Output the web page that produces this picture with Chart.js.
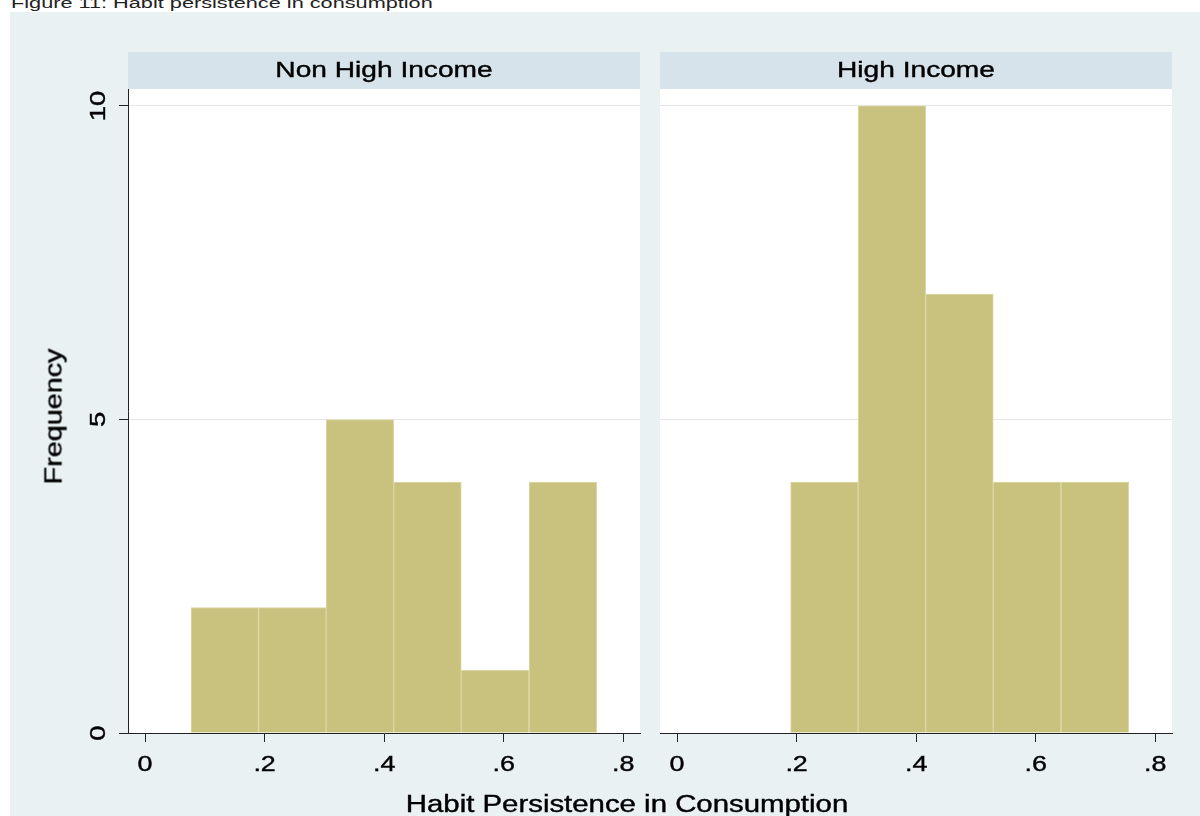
<!DOCTYPE html>
<html>
<head>
<meta charset="utf-8">
<script src="https://cdn.jsdelivr.net/npm/chart.js@4.4.1/dist/chart.umd.min.js"></script>
<style>
  html, body { margin: 0; padding: 0; background: #ffffff; }
  body { width: 1200px; height: 816px; position: relative; overflow: hidden;
         font-family: "Liberation Sans", Arial, sans-serif; }
  #caption { position: absolute; left: 11px; top: -5px; font-size: 15.5px; line-height: 1;
             color: #222; white-space: nowrap; transform: scaleX(1.4); transform-origin: left top; }
  #graph { position: absolute; left: 10px; top: 12px; width: 1190px; height: 804px; background: #eaf1f3; }
  canvas { position: absolute; top: 0; }
  .axis-title { position: absolute; line-height: 1; color: #000; white-space: nowrap;
                text-align: center; -webkit-text-stroke: 0.4px #000; }
  #xtitle { left: 0; width: 1254px; top: 793px; font-size: 23.5px; transform: scaleX(1.25); }
  #ytitle { left: -46.5px; width: 200px; top: 405px; font-size: 23px;
            transform: rotate(-90deg) scaleX(1.25); transform-origin: center center; }
</style>
</head>
<body>
<div id="caption">Figure 11: Habit persistence in consumption</div>
<div id="graph"></div>
<canvas id="panelLeft" width="650" height="816" style="left:0px;width:650px;height:816px"></canvas>
<canvas id="panelRight" width="550" height="816" style="left:650px;width:550px;height:816px"></canvas>
<div id="ytitle" class="axis-title">Frequency</div>
<div id="xtitle" class="axis-title">Habit Persistence in Consumption</div>
<script>
// Histogram bins shared by both panels
const binEdges = [0.077, 0.190, 0.303, 0.416, 0.529, 0.642, 0.756];
const nonHighIncomeCounts = [2, 2, 5, 4, 1, 4];
const highIncomeCounts = [0, 4, 10, 7, 4, 4];
const panelTitles = ['Non High Income', 'High Income'];
const xTickValues = [0, 0.2, 0.4, 0.6, 0.8];
const xTickLabels = ['0', '.2', '.4', '.6', '.8'];
const yTickValues = [0, 5, 10];
const yTickLabels = ['0', '5', '10'];

const FONT = '"Liberation Sans", Arial, sans-serif';
const TEXT_WIDEN = 1.25;
Chart.defaults.font.family = FONT;

// Wide, slightly heavy lettering: labels are stretched along their own baseline
function widenText(ctx, factor) {
  const fill = ctx.fillText;
  ctx.fillText = function (text, x, y) {
    this.save();
    this.translate(x, y);
    this.scale(factor, 1);
    fill.call(this, text, 0, 0);
    this.strokeStyle = this.fillStyle;
    this.lineWidth = 0.4;
    this.strokeText(text, 0, 0);
    this.restore();
  };
}

// White plot region and the tinted strip that holds the panel caption
const panelFrame = {
  id: 'panelFrame',
  beforeDraw(chart) {
    const { ctx, chartArea: a } = chart;
    const t = chart.titleBlock;
    ctx.save();
    ctx.fillStyle = '#ffffff';
    ctx.fillRect(a.left, a.top, a.right - a.left, a.bottom - a.top);
    ctx.fillStyle = '#d6e3ea';
    ctx.fillRect(a.left, t.top, a.right - a.left, a.top - t.top);
    ctx.restore();
  }
};

function binPoints(counts) {
  return counts.map((c, i) => ({ x: (binEdges[i] + binEdges[i + 1]) / 2, y: c }));
}

function makePanel(canvasId, title, counts, withYAxis, padding) {
  const canvas = document.getElementById(canvasId);
  const ctx = canvas.getContext('2d');
  widenText(ctx, TEXT_WIDEN);
  return new Chart(ctx, {
    type: 'bar',
    data: {
      datasets: [{
        data: binPoints(counts),
        backgroundColor: '#c9c27e',
        borderColor: '#ddd7a6',
        borderWidth: 1,
        borderSkipped: 'start',
        barPercentage: 1,
        categoryPercentage: 1
      }]
    },
    options: {
      responsive: false,
      animation: false,
      devicePixelRatio: 1,
      layout: { padding },
      plugins: {
        legend: { display: false },
        tooltip: { enabled: false },
        title: {
          display: true,
          text: title,
          fullSize: false,
          color: '#000',
          font: { size: 22.5, weight: 'normal', lineHeight: 1.2 },
          padding: { top: 5, bottom: 5 }
        }
      },
      scales: {
        x: {
          type: 'linear',
          offset: false,
          min: -0.0285,
          max: 0.828,
          afterBuildTicks: s => { s.ticks = xTickValues.map(v => ({ value: v })); },
          afterFit: s => { s.height = 83; },
          ticks: {
            autoSkip: false,
            maxRotation: 0,
            padding: 10,
            color: '#000',
            font: { size: 21.5 },
            callback: v => xTickLabels[xTickValues.indexOf(v)]
          },
          grid: { offset: false, drawOnChartArea: false, drawTicks: true, tickLength: 9, tickColor: '#222' },
          border: { display: true, color: '#222', width: 1 }
        },
        y: {
          min: 0,
          max: 10.27,
          position: 'left',
          afterBuildTicks: s => { s.ticks = yTickValues.map(v => ({ value: v })); },
          afterFit: s => { s.width = withYAxis ? 128 : 0; },
          ticks: {
            display: withYAxis,
            minRotation: 90,
            maxRotation: 90,
            crossAlign: 'center',
            padding: 8,
            color: '#000',
            font: { size: 22 },
            callback: v => yTickLabels[yTickValues.indexOf(v)]
          },
          grid: {
            color: c => (c.tick && c.tick.value === 0) ? 'rgba(0,0,0,0)' : '#e4e7e8',
            drawTicks: withYAxis,
            tickLength: withYAxis ? 9 : 0,
            tickColor: '#222'
          },
          border: { display: withYAxis, color: '#222', width: 1 }
        }
      }
    },
    plugins: [panelFrame]
  });
}

makePanel('panelLeft', panelTitles[0], nonHighIncomeCounts, true, { top: 52, left: 0, right: 10, bottom: 0 });
makePanel('panelRight', panelTitles[1], highIncomeCounts, false, { top: 52, left: 10, right: 28, bottom: 0 });
</script>
</body>
</html>
